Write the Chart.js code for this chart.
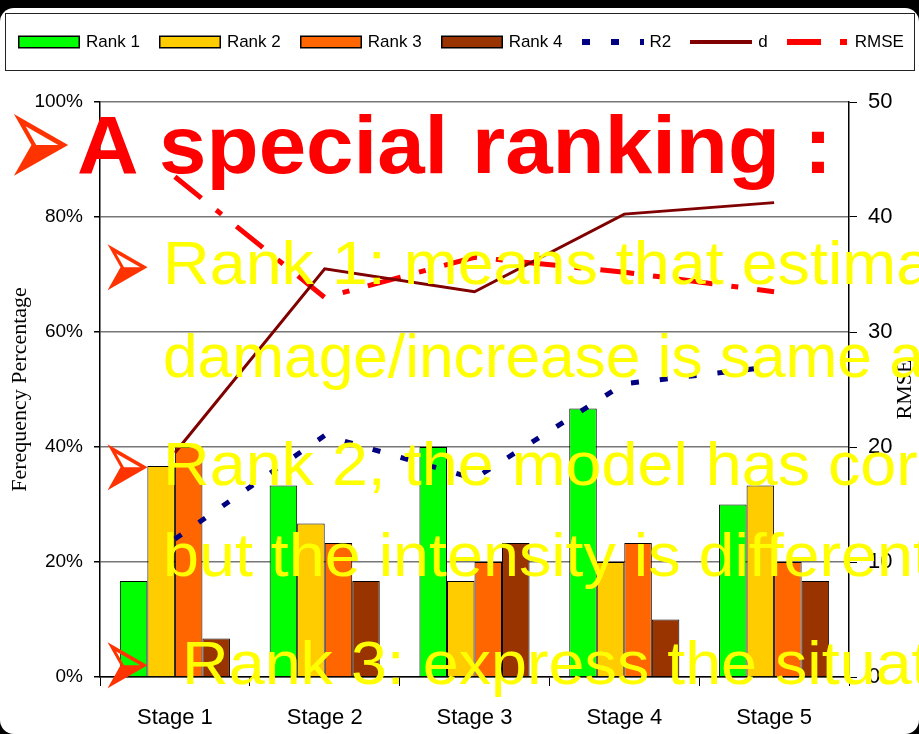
<!DOCTYPE html>
<html>
<head>
<meta charset="utf-8">
<title>Ranking by stage</title>
<script src="https://cdn.jsdelivr.net/npm/chart.js@4.4.1/dist/chart.umd.min.js"></script>
<style>
  html, body { margin: 0; padding: 0; background: #000; }
  #slide { position: relative; width: 919px; height: 734px; overflow: hidden; background: #000; }
  #panel { position: absolute; left: 0; top: 8px; width: 919px; height: 726px; background: #fff; border-radius: 14px; }
  #chart { position: absolute; left: 0; top: 0; }
  #legend {
    position: absolute; left: 5px; top: 13px; width: 910px; height: 58px;
    box-sizing: border-box; border: 1px solid #222;
    display: flex; align-items: center; padding-left: 12px;
    font: 17px "Liberation Sans", Arial, sans-serif; color: #000;
  }
  #legend .item { display: flex; align-items: center; margin-right: 19px; white-space: nowrap; }
  #legend svg { display: block; margin-right: 6px; }
  .note { position: absolute; white-space: nowrap; font-family: "Liberation Sans", Arial, sans-serif; transform-origin: 0 0; }
  .title { left: 77px; top: 104px; font-size: 82px; line-height: 82px; font-weight: bold; color: #f00; transform: scaleX(1.04); }
  .line { left: 163px; font-size: 61px; line-height: 61px; color: #ff0; transform: scaleX(1.06); }
  .line.tight { transform: scaleX(1.02); }
  .bullet { position: absolute; font-family: "DejaVu Sans", sans-serif; color: #ff3300; line-height: 1; transform-origin: 0 0; }
  .bullet.big { left: 5px; top: 71px; font-size: 80px; transform: scaleY(1.76); }
  .bullet.small { left: 101px; font-size: 59px; transform: scaleY(1.77); }
</style>
</head>
<body>
<div id="slide">
  <div id="panel"></div>
  <canvas id="chart" width="919" height="734"></canvas>
  <div id="legend"></div>

  <span class="bullet big">➢</span>
  <div class="note title">A special ranking :</div>

  <span class="bullet small" style="top: 211px;">➢</span>
  <div class="note line" style="top: 233px;">Rank 1: means that estimated</div>
  <div class="note line tight" style="top: 326px;">damage/increase is same as</div>

  <span class="bullet small" style="top: 411px;">➢</span>
  <div class="note line" style="top: 434px;">Rank 2, the model has correct</div>
  <div class="note line" style="top: 525px;">but the intensity is different</div>

  <span class="bullet small" style="top: 609px;">➢</span>
  <div class="note line" style="top: 633px; left: 182px;">Rank 3: express the situation</div>
</div>

<script>
const stages = ['Stage 1', 'Stage 2', 'Stage 3', 'Stage 4', 'Stage 5'];

// share of cases per rank, in percent
const rank1 = [16.7, 33.3, 40.0, 46.7, 30.0];
const rank2 = [36.7, 26.7, 16.7, 20.0, 33.3];
const rank3 = [40.0, 23.3, 20.0, 23.3, 20.0];
const rank4 = [6.7, 16.7, 23.3, 10.0, 16.7];

// goodness of fit: R2 and d in percent, RMSE on its own axis
const r2Values = [24.0, 42.0, 34.5, 51.0, 54.0];
const dValues = [39.0, 71.0, 67.0, 80.5, 82.5];
const rmseValues = [43.5, 33.0, 36.5, 35.2, 33.5];

const pctTicks = [0, 20, 40, 60, 80, 100];
const rmseTicks = [0, 10, 20, 30, 40, 50];

const SANS = '"Liberation Sans", Arial, sans-serif';
const SERIF = '"Liberation Serif", "Times New Roman", serif';

function barSet(label, data, color) {
  return {
    type: 'bar', label, data,
    backgroundColor: color, borderColor: '#000', borderWidth: 1,
    categoryPercentage: 0.735, barPercentage: 1.0,
    yAxisID: 'y', order: 2,
  };
}

function lineSet(label, data, color, width, dash, axis) {
  return {
    type: 'line', label, data,
    borderColor: color, backgroundColor: color, borderWidth: width,
    borderDash: dash, borderCapStyle: 'butt',
    pointRadius: 0, tension: 0, fill: false,
    yAxisID: axis, order: 1,
  };
}

// RMSE axis title, written bottom-to-top like the left one
const rightTitle = {
  id: 'rightTitle',
  afterDraw(chart) {
    const s = chart.scales.y1;
    const { top, bottom } = chart.chartArea;
    const ctx = chart.ctx;
    ctx.save();
    ctx.translate(s.right - 14, (top + bottom) / 2);
    ctx.rotate(-Math.PI / 2);
    ctx.font = '22px ' + SERIF;
    ctx.fillStyle = '#000';
    ctx.textAlign = 'center';
    ctx.textBaseline = 'middle';
    ctx.fillText('RMSE', 0, 0);
    ctx.restore();
  },
};

const chart = new Chart(document.getElementById('chart'), {
  type: 'bar',
  data: {
    labels: stages,
    datasets: [
      barSet('Rank 1', rank1, '#00ff00'),
      barSet('Rank 2', rank2, '#ffcc00'),
      barSet('Rank 3', rank3, '#ff6600'),
      barSet('Rank 4', rank4, '#993300'),
      lineSet('R2', r2Values, '#000080', 5, [8, 21], 'y'),
      lineSet('d', dValues, '#800000', 3, [], 'y'),
      lineSet('RMSE', rmseValues, '#ff0000', 5, [34, 19, 7, 19], 'y1'),
    ],
  },
  options: {
    responsive: false,
    animation: false,
    devicePixelRatio: 1,
    layout: { padding: { top: 102, left: 0, right: 0, bottom: 0 } },
    plugins: { legend: { display: false }, tooltip: { enabled: false } },
    scales: {
      x: {
        grid: { offset: true, drawOnChartArea: false, tickLength: 9, color: '#000', lineWidth: 1 },
        border: { color: '#000', width: 1.5 },
        ticks: { color: '#000', font: { family: SANS, size: 22 }, padding: 19 },
        afterFit: (s) => { s.height = 57; },
      },
      y: {
        position: 'left', min: 0, max: 100,
        afterBuildTicks: (s) => { s.ticks = pctTicks.map((v) => ({ value: v })); },
        ticks: { color: '#000', font: { family: SANS, size: 19 }, padding: 11, callback: (v) => v + '%' },
        grid: { color: '#777', lineWidth: 1.5, tickLength: 6, tickColor: '#000' },
        border: { color: '#000', width: 1.5 },
        title: {
          display: true, text: 'Ferequency Percentage', color: '#000',
          font: { family: SERIF, size: 22 }, padding: { top: 7, bottom: 0 },
        },
        afterFit: (s) => { s.width = 100; },
      },
      y1: {
        position: 'right', min: 0, max: 50,
        afterBuildTicks: (s) => { s.ticks = rmseTicks.map((v) => ({ value: v })); },
        ticks: { color: '#000', font: { family: SANS, size: 22 }, padding: 11 },
        grid: { drawOnChartArea: false, tickLength: 8, color: '#000', lineWidth: 1 },
        border: { color: '#000', width: 1.5 },
        afterFit: (s) => { s.width = 70; },
      },
    },
  },
  plugins: [rightTitle],
});

// boxed legend row built from the datasets
function swatch(ds) {
  const ns = 'http://www.w3.org/2000/svg';
  const svg = document.createElementNS(ns, 'svg');
  svg.setAttribute('width', '62');
  svg.setAttribute('height', '14');
  if (ds.type === 'bar') {
    const r = document.createElementNS(ns, 'rect');
    r.setAttribute('x', '0.75'); r.setAttribute('y', '1.25');
    r.setAttribute('width', '60.5'); r.setAttribute('height', '11.5');
    r.setAttribute('fill', ds.backgroundColor);
    r.setAttribute('stroke', '#000'); r.setAttribute('stroke-width', '1.5');
    svg.appendChild(r);
  } else {
    const l = document.createElementNS(ns, 'line');
    l.setAttribute('x1', '0'); l.setAttribute('x2', '62');
    l.setAttribute('y1', '7'); l.setAttribute('y2', '7');
    l.setAttribute('stroke', ds.borderColor);
    l.setAttribute('stroke-width', ds.label === 'd' ? '4' : '6');
    if (ds.borderDash.length) l.setAttribute('stroke-dasharray', ds.borderDash.join(' '));
    svg.appendChild(l);
  }
  return svg;
}

const legendEl = document.getElementById('legend');
chart.data.datasets.forEach((ds) => {
  const item = document.createElement('div');
  item.className = 'item';
  item.appendChild(swatch(ds));
  const txt = document.createElement('span');
  txt.textContent = ds.label;
  item.appendChild(txt);
  legendEl.appendChild(item);
});
</script>
</body>
</html>
